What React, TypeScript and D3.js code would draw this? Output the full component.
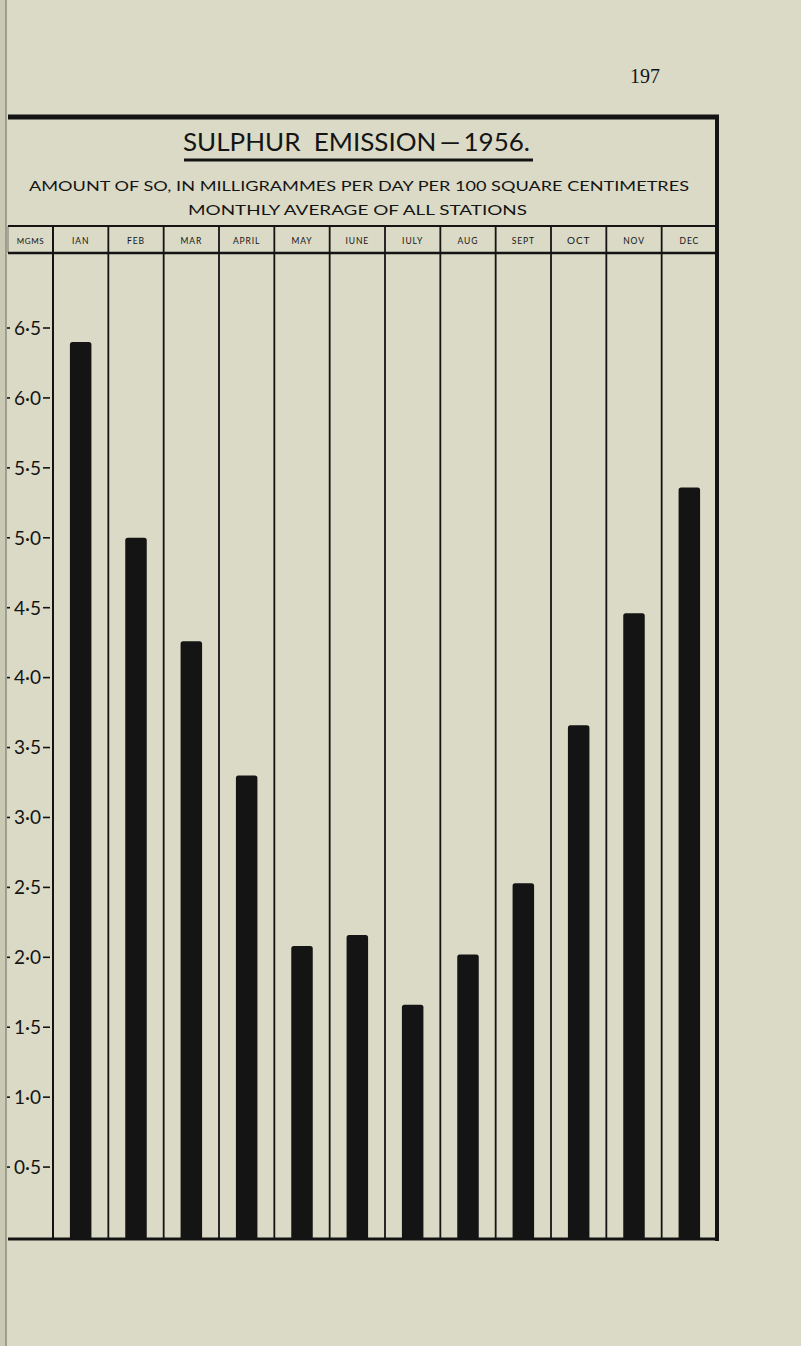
import React from "react";
import * as d3 from "d3";

const months = ["IAN", "FEB", "MAR", "APRIL", "MAY", "IUNE", "IULY", "AUG", "SEPT", "OCT", "NOV", "DEC"];
const values = [6.4, 5.0, 4.26, 3.3, 2.08, 2.16, 1.66, 2.02, 2.53, 3.66, 4.46, 5.36];
const tickValues = [0.5, 1.0, 1.5, 2.0, 2.5, 3.0, 3.5, 4.0, 4.5, 5.0, 5.5, 6.0, 6.5];
const unitLabel = "MGMS";
const title = "SULPHUR  EMISSION\u2009\u2014\u20091956.";
const subtitle1 = "AMOUNT OF SO, IN MILLIGRAMMES PER DAY PER 100 SQUARE CENTIMETRES";
const subtitle2 = "MONTHLY AVERAGE OF ALL STATIONS";
const pageNumber = "197";

const W = 801;
const H = 1346;
const INK = "#141414";
const PAPER = "#dadac6";
const FONT = "Lato, 'Open Sans', 'DejaVu Sans', sans-serif";

export default function App() {
  const left = 8;
  const axisX = 53;
  const right = 717;
  const frameTop = 117;
  const headTop = 226;
  const headBottom = 253;
  const bottom = 1239;

  const x = d3.scaleBand<string>().domain(months).range([axisX, right]).paddingInner(0).paddingOuter(0);
  const y = d3.scaleLinear().domain([0, 6.5]).range([1237, 328]);
  const barW = 21.5;
  const r = 2.5;

  const barPath = (m: string, v: number) => {
    const cx = (x(m) as number) + x.bandwidth() / 2;
    const x0 = cx - barW / 2;
    const x1 = cx + barW / 2;
    const top = y(v);
    const p = d3.path();
    p.moveTo(x0, bottom);
    p.lineTo(x0, top + r);
    p.quadraticCurveTo(x0, top, x0 + r, top);
    p.lineTo(x1 - r, top);
    p.quadraticCurveTo(x1, top, x1, top + r);
    p.lineTo(x1, bottom);
    p.closePath();
    return p.toString();
  };

  const dividers = [axisX, ...months.slice(1).map((m) => x(m) as number)];

  return (
    <div style={{ position: "absolute", left: 0, top: 0, width: W, height: H }}>
      <svg width={W} height={H} viewBox={`0 0 ${W} ${H}`} style={{ display: "block" }}>
        <rect x={0} y={0} width={W} height={H} fill={PAPER} />
        <rect x={0} y={0} width={6} height={H} fill="#c9c9b4" />
        <line x1={6} x2={6} y1={0} y2={H} stroke="#8d8d7e" strokeWidth={1.5} />

        {/* page number */}
        <text x={645} y={83} textAnchor="middle" fontFamily="'Liberation Serif', 'DejaVu Serif', serif" fontSize={20} fill={INK}>
          {pageNumber}
        </text>

        {/* frame */}
        <line x1={left} x2={right + 2} y1={frameTop} y2={frameTop} stroke={INK} strokeWidth={5} />
        <line x1={right} x2={right} y1={frameTop - 2} y2={bottom + 2} stroke={INK} strokeWidth={4} />

        {/* titles */}
        <text x={183} y={151} fontFamily={FONT} fontSize={25} fill={INK} textLength={347} lengthAdjust="spacingAndGlyphs" style={{ whiteSpace: "pre" }}>
          {title}
        </text>
        <line x1={184} x2={533} y1={160} y2={160} stroke={INK} strokeWidth={3} />
        <text x={29} y={191} fontFamily={FONT} fontSize={13.5} fill={INK} textLength={660} lengthAdjust="spacingAndGlyphs">
          {subtitle1}
        </text>
        <text x={188} y={215} fontFamily={FONT} fontSize={13.5} fill={INK} textLength={339} lengthAdjust="spacingAndGlyphs">
          {subtitle2}
        </text>

        {/* header row */}
        <line x1={left} x2={right} y1={headTop} y2={headTop} stroke={INK} strokeWidth={2} />
        <line x1={left} x2={right} y1={headBottom} y2={headBottom} stroke={INK} strokeWidth={2.5} />
        <text x={(left + axisX) / 2} y={244} textAnchor="middle" fontFamily={FONT} fontSize={8} letterSpacing={0.6} fill={INK}>
          {unitLabel}
        </text>
        {months.map((m) => (
          <text
            key={m}
            x={(x(m) as number) + x.bandwidth() / 2}
            y={244}
            textAnchor="middle"
            fontFamily={FONT}
            fontSize={m === "OCT" ? 10 : 8.5}
            letterSpacing={0.9}
            fill={INK}
          >
            {m}
          </text>
        ))}
        <line x1={left} x2={left} y1={headTop} y2={headBottom} stroke={INK} strokeWidth={1} opacity={0.5} />

        {/* column dividers */}
        {dividers.map((dx, i) => (
          <line key={i} x1={dx} x2={dx} y1={headTop} y2={bottom} stroke={INK} strokeWidth={i === 0 ? 2 : 1.8} />
        ))}

        {/* bars */}
        {months.map((m, i) => (
          <path key={m} d={barPath(m, values[i])} fill={INK} />
        ))}

        {/* bottom line */}
        <line x1={left} x2={right + 1} y1={bottom} y2={bottom} stroke={INK} strokeWidth={3} />

        {/* y axis ticks */}
        {tickValues.map((t) => (
          <g key={t} transform={`translate(0,${y(t)})`}>
            <line x1={43} x2={50} y1={0} y2={0} stroke={INK} strokeWidth={1.6} />
            <line x1={7} x2={10} y1={0} y2={0} stroke={INK} strokeWidth={1.6} />
            <text x={41} y={0} dy="0.36em" textAnchor="end" fontFamily={FONT} fontSize={19} fill={INK}>
              {d3.format(".1f")(t).replace(".", "\u00b7")}
            </text>
          </g>
        ))}
      </svg>
    </div>
  );
}
